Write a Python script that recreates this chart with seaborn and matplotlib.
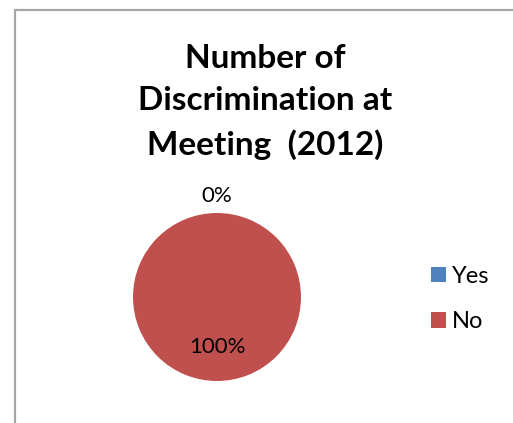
import matplotlib
matplotlib.use("Agg")
import matplotlib.pyplot as plt
from matplotlib.lines import Line2D
from matplotlib.patches import Patch
import numpy as np
import seaborn as sns

sns.set_style("white")
plt.rcParams["font.family"] = ["Lato", "DejaVu Sans"]
plt.rcParams["text.color"] = "black"

title = "Number of\nDiscrimination at\nMeeting  (2012)"
categories = ["Yes", "No"]
values = [0, 100]
colors = ["#4F81BD", "#C0504D"]

W, H = 513, 423
fig = plt.figure(figsize=(W / 100, H / 100), dpi=100)
fig.patch.set_facecolor("white")

# chart frame (top and left edges)
border = "#a6a6a6"
fig.add_artist(Line2D([14.5 / W, 14.5 / W], [0, 1 - 10.5 / H],
                      transform=fig.transFigure, color=border, lw=1.6))
fig.add_artist(Line2D([14.5 / W, 1], [1 - 10.5 / H, 1 - 10.5 / H],
                      transform=fig.transFigure, color=border, lw=1.6))

# pie
cx, cy, r = 217, 297, 84
ax = fig.add_axes([(cx - r) / W, (H - cy - r) / H, 2 * r / W, 2 * r / H])
wedges, _ = ax.pie(values, colors=colors, startangle=90, counterclock=False,
                   wedgeprops=dict(linewidth=0))
ax.set_xlim(-1, 1)
ax.set_ylim(-1, 1)
ax.axis("off")

total = sum(values)
for w, v in zip(wedges, values):
    theta = np.deg2rad((w.theta1 + w.theta2) / 2)
    rad = 1.2 if v == 0 else 0.6
    ax.text(rad * np.cos(theta), rad * np.sin(theta), f"{v / total:.0%}",
            ha="center", va="center", fontsize=16, color="black")

fig.text(265 / W, 1 - 102 / H, title, ha="center", va="center",
         fontsize=24, fontweight="bold", linespacing=1.53, color="black")

handles = [Patch(facecolor=c, edgecolor="none") for c in colors]
fig.legend(handles, categories, loc="center left",
           bbox_to_anchor=(431 / W, 1 - 299 / H), frameon=False,
           fontsize=17, handlelength=0.64, handleheight=0.64,
           handletextpad=0.25, labelspacing=1.05,
           borderpad=0, borderaxespad=0)

fig.savefig("out.png", dpi=100, facecolor="white")
